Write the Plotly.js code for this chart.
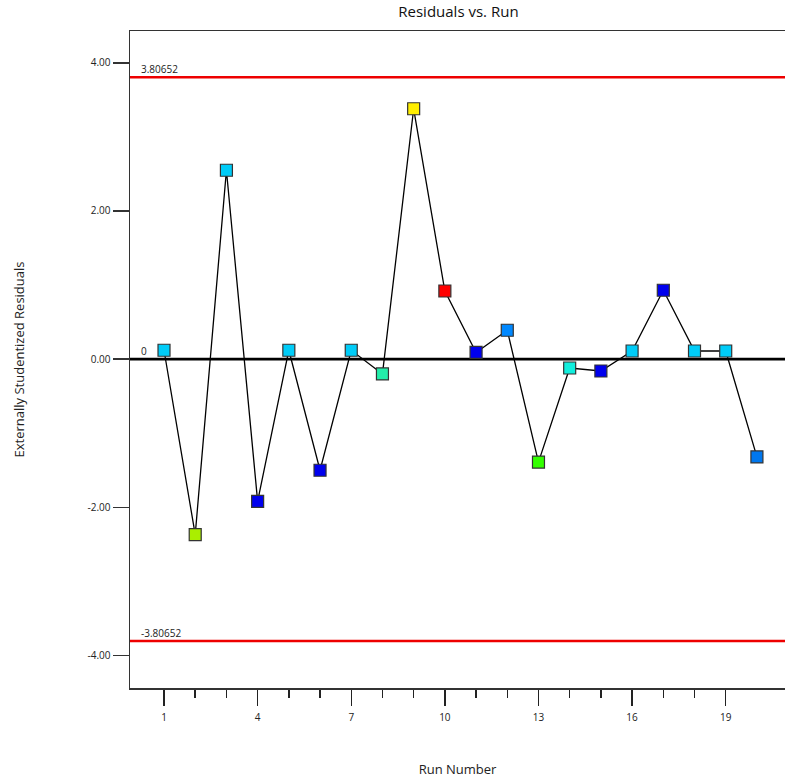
<!DOCTYPE html>
<html>
<head>
<meta charset="utf-8">
<script src="https://cdn.plot.ly/plotly-3.0.1.min.js"></script>
<style>html,body{margin:0;padding:0;background:#fff;}#chart{width:785px;height:780px;}</style>
</head>
<body>
<div id="chart"></div>
<script>
const runs = [1,2,3,4,5,6,7,8,9,10,11,12,13,14,15,16,17,18,19,20];
const residuals = [0.12,-2.37,2.55,-1.92,0.12,-1.50,0.12,-0.20,3.38,0.92,0.09,0.39,-1.39,-0.12,-0.16,0.11,0.93,0.11,0.11,-1.32];
const pointColors = ['#00ccf8','#aaee00','#00ccf8','#0000ee','#00ccf8','#0000ee','#00ccf8','#22eeaa','#ffee00','#ff0000','#0000ee','#0088ff','#33ff00','#11eedd','#0000ee','#00ccf8','#0000ee','#00ccf8','#00ccf8','#0077ee'];
const limitUpper = 3.80652;
const limitLower = -3.80652;
const limitLabels = ['3.80652','0','-3.80652'];
const xTickVals = [1,4,7,10,13,16,19];
const xTickText = ['1','4','7','10','13','16','19'];
const xMinorVals = [2,3,5,6,8,9,11,12,14,15,17,18];
const yTickVals = [-4,-2,0,2,4];
const yTickText = ['-4.00','-2.00','0.00','2.00','4.00'];

const xr = [-0.09, 20.9];
const font = 'Open Sans, Noto Sans, sans-serif';

const traces = [
  {x: xr, y:[limitUpper,limitUpper], mode:'lines', line:{color:'#ee0000', width:2.5}, hoverinfo:'skip', showlegend:false},
  {x: xr, y:[limitLower,limitLower], mode:'lines', line:{color:'#ee0000', width:2.5}, hoverinfo:'skip', showlegend:false},
  {x: xr, y:[0,0], mode:'lines', line:{color:'#000000', width:2.8}, hoverinfo:'skip', showlegend:false},
  {x: runs, y: residuals, mode:'lines+markers', showlegend:false,
   line:{color:'#000000', width:1.3},
   marker:{symbol:'square', size:12, color: pointColors, line:{color:'#333333', width:1.2}}}
];

const limitVals = [limitUpper, 0, limitLower];
const annotations = limitVals.map((v,i)=>({
  x: 0.2, y: v, xref:'x', yref:'y', text: limitLabels[i], showarrow:false,
  xanchor:'left', yanchor:'bottom', yshift:-1, font:{family:font, size:10, color:'#222'}
}));

const layout = {
  width: 785, height: 780,
  margin: {l:130, r:0, t:31, b:92},
  paper_bgcolor:'#fff', plot_bgcolor:'#fff',
  font:{family:font, color:'#222'},
  title:{text:'Residuals vs. Run', x:0.584, xanchor:'center', y:0.992, yanchor:'top', font:{family:font, size:15, color:'#111'}},
  xaxis:{range:xr, showgrid:false, zeroline:false, showline:true, linecolor:'#333', linewidth:1.5, mirror:true,
    tickmode:'array', tickvals:xTickVals, ticktext:xTickText, ticks:'outside', ticklen:16, tickwidth:1.5, tickcolor:'#222',
    ticklabelstandoff:3,
    tickfont:{family:font, size:10, color:'#222'},
    minor:{tickmode:'array', tickvals:xMinorVals, ticks:'outside', ticklen:8, tickwidth:1.5, tickcolor:'#222'},
    title:{text:'Run Number', standoff:42, font:{family:font, size:13, color:'#222'}}},
  yaxis:{range:[-4.44,4.43], showgrid:false, zeroline:false, showline:true, linecolor:'#333', linewidth:1.5, mirror:true,
    tickmode:'array', tickvals:yTickVals, ticktext:yTickText, ticks:'outside', ticklen:16, tickwidth:1.5, tickcolor:'#333',
    tickfont:{family:font, size:10, color:'#222'},
    title:{text:'Externally Studentized Residuals', standoff:60, font:{family:font, size:13, color:'#222'}}},
  annotations: annotations
};

Plotly.newPlot('chart', traces, layout, {displayModeBar:false, staticPlot:true});
</script>
</body>
</html>
